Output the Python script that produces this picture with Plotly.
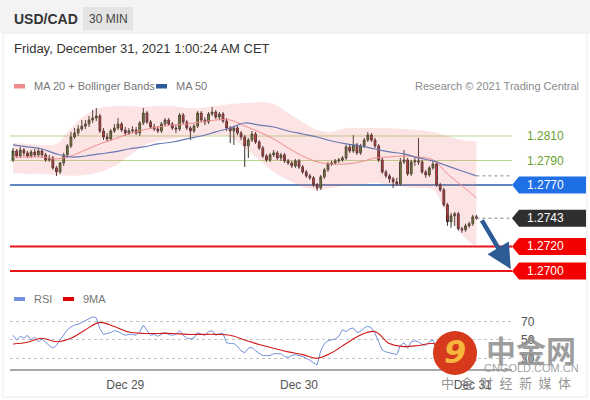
import plotly.graph_objects as go
import pandas as pd

W, H = 590, 400

SYMBOL = "USD/CAD"
PERIOD = "30 MIN"
STAMP = "Friday, December 31, 2021 1:00:24 AM CET"
SOURCE = "Research © 2021 Trading Central"

# 30-minute bars
TIMES = pd.date_range("2021-12-28 08:30", periods=129, freq="30min")
X_RANGE = ["2021-12-28 08:05", "2021-12-31 05:25"]
DATE_TICKS = ["2021-12-29", "2021-12-30", "2021-12-31"]

OPEN = [1.27905, 1.27978, 1.27937, 1.27986, 1.27962, 1.27937, 1.27970, 1.27946, 1.27978, 1.27946,
        1.27905, 1.27921, 1.27840, 1.27807, 1.27880, 1.27946, 1.28019, 1.28092, 1.28124, 1.28157,
        1.28181, 1.28198, 1.28230, 1.28246, 1.28263, 1.28141, 1.28092, 1.28076, 1.28141, 1.28165,
        1.28198, 1.28149, 1.28124, 1.28141, 1.28149, 1.28124, 1.28206, 1.28287, 1.28214, 1.28173,
        1.28157, 1.28141, 1.28198, 1.28230, 1.28198, 1.28165, 1.28157, 1.28271, 1.28214, 1.28165,
        1.28141, 1.28181, 1.28287, 1.28230, 1.28214, 1.28279, 1.28295, 1.28254, 1.28279, 1.28222,
        1.28165, 1.28141, 1.28165, 1.28124, 1.28092, 1.28019, 1.28067, 1.28116, 1.28051, 1.28002,
        1.27937, 1.27905, 1.27946, 1.27962, 1.27921, 1.27946, 1.27897, 1.27880, 1.27856, 1.27897,
        1.27848, 1.27807, 1.27775, 1.27759, 1.27702, 1.27677, 1.27767, 1.27824, 1.27872, 1.27880,
        1.27897, 1.27905, 1.27921, 1.28011, 1.27978, 1.28027, 1.27962, 1.28019, 1.28067, 1.28108,
        1.28067, 1.28019, 1.27905, 1.27807, 1.27775, 1.27750, 1.27726, 1.27710, 1.27889, 1.27905,
        1.27791, 1.27889, 1.27897, 1.27889, 1.27807, 1.27783, 1.27840, 1.27872, 1.27702, 1.27661,
        1.27539, 1.27401, 1.27450, 1.27466, 1.27344, 1.27336, 1.27368, 1.27385, 1.27441]
HIGH = [1.28002, 1.27994, 1.28011, 1.28002, 1.27978, 1.27986, 1.27994, 1.27994, 1.27994, 1.27962,
        1.27946, 1.27937, 1.27856, 1.27889, 1.27962, 1.28035, 1.28133, 1.28165, 1.28189, 1.28230,
        1.28230, 1.28263, 1.28311, 1.28328, 1.28279, 1.28165, 1.28124, 1.28157, 1.28198, 1.28246,
        1.28214, 1.28173, 1.28165, 1.28181, 1.28173, 1.28222, 1.28328, 1.28303, 1.28230, 1.28198,
        1.28181, 1.28214, 1.28246, 1.28246, 1.28214, 1.28189, 1.28287, 1.28287, 1.28230, 1.28181,
        1.28198, 1.28303, 1.28303, 1.28254, 1.28295, 1.28336, 1.28311, 1.28295, 1.28295, 1.28246,
        1.28181, 1.28181, 1.28181, 1.28141, 1.28108, 1.28084, 1.28141, 1.28133, 1.28067, 1.28019,
        1.27954, 1.27962, 1.27986, 1.27978, 1.27962, 1.27962, 1.27913, 1.27897, 1.27913, 1.27913,
        1.27864, 1.27824, 1.27791, 1.27775, 1.27718, 1.27783, 1.27840, 1.27889, 1.27897, 1.27913,
        1.27921, 1.27937, 1.28027, 1.28027, 1.28108, 1.28043, 1.28035, 1.28084, 1.28133, 1.28124,
        1.28084, 1.28035, 1.27921, 1.27824, 1.27791, 1.27767, 1.27759, 1.27921, 1.27986, 1.27921,
        1.27905, 1.27921, 1.28084, 1.27905, 1.27824, 1.27856, 1.27905, 1.27889, 1.27718, 1.27677,
        1.27555, 1.27474, 1.27482, 1.27482, 1.27360, 1.27385, 1.27401, 1.27458, 1.27458]
LOW = [1.27889, 1.27921, 1.27921, 1.27937, 1.27921, 1.27921, 1.27929, 1.27929, 1.27921, 1.27889,
       1.27889, 1.27824, 1.27775, 1.27791, 1.27856, 1.27921, 1.28002, 1.28076, 1.28100, 1.28141,
       1.28157, 1.28173, 1.28206, 1.28222, 1.28124, 1.28067, 1.28051, 1.28059, 1.28124, 1.28149,
       1.28133, 1.28100, 1.28108, 1.28124, 1.28108, 1.28100, 1.28189, 1.28198, 1.28157, 1.28141,
       1.28124, 1.28124, 1.28181, 1.28181, 1.28149, 1.28124, 1.28141, 1.28198, 1.28149, 1.28067,
       1.28124, 1.28165, 1.28214, 1.28189, 1.28198, 1.28263, 1.28238, 1.28230, 1.28206, 1.28141,
       1.28043, 1.28027, 1.28108, 1.28067, 1.27848, 1.27921, 1.28051, 1.28035, 1.27986, 1.27921,
       1.27889, 1.27889, 1.27929, 1.27905, 1.27897, 1.27880, 1.27864, 1.27840, 1.27840, 1.27832,
       1.27791, 1.27759, 1.27742, 1.27685, 1.27653, 1.27661, 1.27750, 1.27807, 1.27856, 1.27864,
       1.27880, 1.27889, 1.27905, 1.27962, 1.27962, 1.27946, 1.27946, 1.28002, 1.28051, 1.28051,
       1.28002, 1.27889, 1.27791, 1.27759, 1.27718, 1.27677, 1.27694, 1.27694, 1.27872, 1.27775,
       1.27775, 1.27856, 1.27864, 1.27791, 1.27759, 1.27767, 1.27824, 1.27685, 1.27645, 1.27523,
       1.27368, 1.27352, 1.27368, 1.27328, 1.27311, 1.27319, 1.27352, 1.27368, 1.27417]
CLOSE = [1.27978, 1.27937, 1.27986, 1.27962, 1.27937, 1.27970, 1.27946, 1.27978, 1.27946, 1.27905,
         1.27921, 1.27840, 1.27807, 1.27880, 1.27946, 1.28019, 1.28092, 1.28124, 1.28157, 1.28181,
         1.28198, 1.28230, 1.28246, 1.28263, 1.28141, 1.28092, 1.28076, 1.28141, 1.28165, 1.28198,
         1.28149, 1.28124, 1.28141, 1.28149, 1.28124, 1.28206, 1.28287, 1.28214, 1.28173, 1.28157,
         1.28141, 1.28198, 1.28230, 1.28198, 1.28165, 1.28157, 1.28271, 1.28214, 1.28165, 1.28141,
         1.28181, 1.28287, 1.28230, 1.28214, 1.28279, 1.28295, 1.28254, 1.28279, 1.28222, 1.28165,
         1.28141, 1.28165, 1.28124, 1.28092, 1.28019, 1.28067, 1.28116, 1.28051, 1.28002, 1.27937,
         1.27905, 1.27946, 1.27962, 1.27921, 1.27946, 1.27897, 1.27880, 1.27856, 1.27897, 1.27848,
         1.27807, 1.27775, 1.27759, 1.27702, 1.27677, 1.27767, 1.27824, 1.27872, 1.27880, 1.27897,
         1.27905, 1.27921, 1.28011, 1.27978, 1.28027, 1.27962, 1.28019, 1.28067, 1.28108, 1.28067,
         1.28019, 1.27905, 1.27807, 1.27775, 1.27750, 1.27726, 1.27710, 1.27889, 1.27905, 1.27791,
         1.27889, 1.27897, 1.27889, 1.27807, 1.27783, 1.27840, 1.27872, 1.27702, 1.27661, 1.27539,
         1.27401, 1.27450, 1.27466, 1.27344, 1.27336, 1.27368, 1.27385, 1.27441, 1.27433]

# indicators
IND_STEP = 4
MA20 = [1.27929, 1.27929, 1.27929, 1.27913, 1.27937, 1.27986, 1.28035, 1.28076, 1.28116, 1.28149,
        1.28173, 1.28189, 1.28198, 1.28214, 1.28230, 1.28230, 1.28181, 1.28133, 1.28076, 1.28002,
        1.27937, 1.27889, 1.27872, 1.27872, 1.27889, 1.27921, 1.27929, 1.27937, 1.27929, 1.27905,
        1.27791, 1.27694, 1.27596]
MA50 = [1.28027, 1.28011, 1.27994, 1.27954, 1.27929, 1.27937, 1.27954, 1.27970, 1.27994, 1.28011,
        1.28035, 1.28051, 1.28076, 1.28100, 1.28133, 1.28165, 1.28206, 1.28189, 1.28173, 1.28141,
        1.28116, 1.28092, 1.28059, 1.28035, 1.28019, 1.27994, 1.27970, 1.27954, 1.27921, 1.27897,
        1.27856, 1.27815, 1.27775]
BB_UP = [1.28043, 1.28035, 1.28027, 1.28035, 1.28165, 1.28271, 1.28328, 1.28344, 1.28344, 1.28336,
         1.28344, 1.28344, 1.28328, 1.28328, 1.28344, 1.28360, 1.28368, 1.28376, 1.28360, 1.28287,
         1.28214, 1.28149, 1.28133, 1.28165, 1.28165, 1.28165, 1.28165, 1.28157, 1.28149, 1.28133,
         1.28100, 1.28067, 1.28059]
BB_LO = [1.27799, 1.27791, 1.27791, 1.27783, 1.27775, 1.27783, 1.27807, 1.27856, 1.27937, 1.28019,
         1.28059, 1.28076, 1.28092, 1.28100, 1.28108, 1.28092, 1.28002, 1.27905, 1.27807, 1.27742,
         1.27685, 1.27661, 1.27677, 1.27694, 1.27702, 1.27718, 1.27702, 1.27685, 1.27677, 1.27661,
         1.27458, 1.27295, 1.27189]

RSI = [55, 50, 54, 52, 55, 50, 53, 48, 51, 47, 44, 41, 44, 50, 56, 61, 64, 66, 67, 69,
       71, 73, 75, 74, 62, 56, 57, 58, 60, 59, 57, 55, 56, 56, 55, 59, 66, 60, 55, 56,
       54, 56, 58, 56, 55, 56, 60, 55, 52, 51, 52, 58, 56, 55, 59, 60, 55, 57, 57, 47,
       46, 46, 43, 38, 36, 41, 42, 38, 35, 33, 33, 33, 35, 35, 35, 32, 31, 33, 34, 33,
       32, 30, 28, 25, 23, 38, 46, 49, 50, 51, 54, 61, 59, 62, 63, 58, 59, 63, 65, 63,
       57, 48, 39, 37, 36, 35, 34, 44, 47, 41, 48, 49, 48, 45, 44, 48, 50, 40, 35, 28,
       22, 28, 27, 24, 24, 26, 28, 33, 33]
RSI_MA9 = [45.6, 47.5, 51.8, 48, 51.8, 61, 69, 64.5, 58.5, 57, 57, 57, 56, 56, 56, 55, 50,
           45, 41, 37, 34, 30, 36, 46, 55.4, 59, 46, 42.7, 44, 46, 38, 30, 28]
RSI_TICKS = [30, 50, 70]

# key levels
RESIST = [1.2810, 1.2790]
PIVOT = 1.2770
LAST = 1.2743
SUPPORT = [1.2720, 1.2700]
ARROW_FROM = ("2021-12-31 01:08", 1.27425)
ARROW_TO = ("2021-12-31 05:15", 1.27015)

Y_RANGE = [1.26902, 1.28434]
RSI_RANGE = [18.4, 87.9]


def px(x):
    return x / W


def py(y):
    return 1 - y / H


FONT = "Liberation Sans, Arial, sans-serif"
ind_t = TIMES[::IND_STEP]

fig = go.Figure()

# bollinger band
fig.add_trace(go.Scatter(x=ind_t, y=BB_UP, mode="lines", line=dict(width=0, shape="spline"),
                         hoverinfo="skip", showlegend=False))
fig.add_trace(go.Scatter(x=ind_t, y=BB_LO, mode="lines", line=dict(width=0, shape="spline"),
                         fill="tonexty", fillcolor="rgba(240,120,120,0.2)",
                         hoverinfo="skip", showlegend=False))

fig.add_trace(go.Candlestick(
    x=TIMES, open=OPEN, high=HIGH, low=LOW, close=CLOSE,
    increasing=dict(line=dict(color="#2f3a26", width=1), fillcolor="#4f8a2c"),
    decreasing=dict(line=dict(color="#3a2a2a", width=1), fillcolor="#cc2a2a"),
    whiskerwidth=0, showlegend=False,
))

fig.add_trace(go.Scatter(x=ind_t, y=MA20, mode="lines",
                         line=dict(color="#f08b8b", width=1, shape="spline"), showlegend=False))
fig.add_trace(go.Scatter(x=ind_t, y=MA50, mode="lines",
                         line=dict(color="#6a78b0", width=1.2, shape="spline"), showlegend=False))

# RSI panel
fig.add_trace(go.Scatter(x=TIMES, y=RSI, mode="lines", xaxis="x2", yaxis="y2",
                         line=dict(color="#7292dc", width=1), showlegend=False))
fig.add_trace(go.Scatter(x=ind_t, y=RSI_MA9, mode="lines", xaxis="x2", yaxis="y2",
                         line=dict(color="#d21a1a", width=1.1, shape="spline"), showlegend=False))

shapes = []
ann = []

# header band, frame
shapes.append(dict(type="rect", xref="paper", yref="paper", x0=0, x1=1, y0=py(33), y1=1,
                   fillcolor="#f3f3f3", line=dict(width=0), layer="below"))
shapes.append(dict(type="rect", xref="paper", yref="paper", x0=px(3), x1=px(587), y0=py(397), y1=py(33),
                   fillcolor="rgba(0,0,0,0)", line=dict(color="#ececec", width=1), layer="below"))
shapes.append(dict(type="rect", xref="paper", yref="paper", x0=px(83), x1=px(133), y0=py(30), y1=py(7),
                   fillcolor="#e3e3e3", line=dict(width=0), layer="below"))
ann.append(dict(text="<b>" + SYMBOL + "</b>", x=px(12), y=py(18.5), xanchor="left",
                font=dict(size=14, color="#333333")))
ann.append(dict(text=PERIOD, x=px(108), y=py(18.5), font=dict(size=12, color="#444444")))
ann.append(dict(text=STAMP, x=px(12), y=py(48), xanchor="left", font=dict(size=13, color="#333333")))

# legends
shapes.append(dict(type="rect", xref="paper", yref="paper", x0=px(14), x1=px(25), y0=py(88.5), y1=py(84),
                   fillcolor="#f08b8b", line=dict(width=0)))
ann.append(dict(text="MA 20 + Bollinger Bands", x=px(32), y=py(86), xanchor="left",
                font=dict(size=11, color="#777777")))
shapes.append(dict(type="rect", xref="paper", yref="paper", x0=px(156), x1=px(167), y0=py(88.5), y1=py(84),
                   fillcolor="#2f5b9a", line=dict(width=0)))
ann.append(dict(text="MA 50", x=px(174), y=py(86), xanchor="left", font=dict(size=11, color="#777777")))
ann.append(dict(text=SOURCE, x=px(581), y=py(86), xanchor="right", font=dict(size=11, color="#8a8a8a")))

shapes.append(dict(type="rect", xref="paper", yref="paper", x0=px(14), x1=px(25), y0=py(301), y1=py(297),
                   fillcolor="#7292dc", line=dict(width=0)))
ann.append(dict(text="RSI", x=px(32), y=py(299), xanchor="left", font=dict(size=11, color="#777777")))
shapes.append(dict(type="rect", xref="paper", yref="paper", x0=px(63), x1=px(74), y0=py(301), y1=py(297),
                   fillcolor="#e00000", line=dict(width=0)))
ann.append(dict(text="9MA", x=px(81), y=py(299), xanchor="left", font=dict(size=11, color="#777777")))

# level lines
for lv in RESIST:
    shapes.append(dict(type="line", xref="x domain", yref="y", x0=0, x1=1, y0=lv, y1=lv,
                       line=dict(color="#b7d78e", width=1), layer="below"))
    ann.append(dict(text=f"{lv:.4f}", xref="paper", yref="y", x=px(525), y=lv, xanchor="left",
                    font=dict(size=12, color="#6aa12c")))
shapes.append(dict(type="line", xref="x domain", yref="y", x0=0, x1=1, y0=PIVOT, y1=PIVOT,
                   line=dict(color="#2b5fa5", width=1.5), layer="below"))
for lv in SUPPORT:
    shapes.append(dict(type="line", xref="x domain", yref="y", x0=0, x1=1, y0=lv, y1=lv,
                       line=dict(color="#e8141a", width=2), layer="below"))
# dotted leaders from last values
for lv, t0 in [(LAST, TIMES[-1]), (MA50[-1], ind_t[-1])]:
    shapes.append(dict(type="line", xref="x", yref="y", x0=t0, x1=X_RANGE[1], y0=lv, y1=lv,
                       line=dict(color="#888888", width=1, dash="dot")))

# price tags
half = (Y_RANGE[1] - Y_RANGE[0]) / 188 * 8.5
tx0, tx1, tx2 = px(512), px(519), px(586)
for lv, col in [(PIVOT, "#1f6fe5"), (LAST, "#2f2f2f"), (SUPPORT[0], "#f40000"), (SUPPORT[1], "#f40000")]:
    path = (f"M {tx0},{lv} L {tx1},{lv + half} L {tx2},{lv + half} "
            f"L {tx2},{lv - half} L {tx1},{lv - half} Z")
    shapes.append(dict(type="path", xref="paper", yref="y", path=path, fillcolor=col, line=dict(width=0)))
    ann.append(dict(text=f"{lv:.4f}", xref="paper", yref="y", x=px(525), y=lv, xanchor="left",
                    font=dict(size=12, color="white")))

# forecast arrow
ann.append(dict(x=ARROW_TO[0], y=ARROW_TO[1], ax=ARROW_FROM[0], ay=ARROW_FROM[1],
                xref="x", yref="y", axref="x", ayref="y", text="", showarrow=True,
                arrowhead=2, arrowsize=1.1, arrowwidth=4.5, arrowcolor="#2d5b96"))

# watermark
shapes.append(dict(type="circle", xref="paper", yref="paper", x0=px(433), x1=px(477), y0=py(375), y1=py(331),
                   fillcolor="#d6391c", line=dict(width=0)))
ann.append(dict(text="<b><i>9</i></b>", x=px(455), y=py(352), font=dict(size=32, color="#f6b53c",
                                                                   family="DejaVu Sans")))
ann.append(dict(text="<b>中金网</b>", x=px(531), y=py(349), font=dict(size=30, color="rgba(140,140,140,0.85)",
                                                                   family="Noto Sans CJK SC")))
ann.append(dict(text="CNGOLD.COM.CN", x=px(531), y=py(368), font=dict(size=11, color="rgba(150,150,150,0.9)")))
ann.append(dict(text="中\u2002金\u2002财\u2002经\u2002新\u2002媒\u2002体", x=px(506), y=py(382),
                font=dict(size=13, color="rgba(130,130,130,0.85)", family="Noto Sans CJK SC")))

for a in ann:
    a.setdefault("xref", "paper")
    a.setdefault("yref", "paper")
    a.setdefault("showarrow", False)
    if not a["showarrow"]:
        a.setdefault("xanchor", "center")
        a.setdefault("yanchor", "middle")

fig.update_layout(
    width=W, height=H,
    margin=dict(l=0, r=0, t=0, b=0),
    paper_bgcolor="white", plot_bgcolor="rgba(0,0,0,0)",
    font=dict(family=FONT),
    showlegend=False,
    shapes=shapes, annotations=ann,
    xaxis=dict(domain=[px(10), px(512)], range=X_RANGE, anchor="y", showticklabels=False,
               showgrid=False, zeroline=False, showline=False, rangeslider=dict(visible=False)),
    yaxis=dict(domain=[py(283), py(95)], range=Y_RANGE, visible=False),
    xaxis2=dict(domain=[px(10), px(512)], range=X_RANGE, anchor="y2", matches="x",
                tickvals=DATE_TICKS, tickformat="%b %d", ticks="", showgrid=False, zeroline=False,
                showline=True, linecolor="#a8a8a8", linewidth=1.5, ticklabelstandoff=4,
                tickfont=dict(size=12, color="#555555")),
    yaxis2=dict(domain=[py(369), py(305)], range=RSI_RANGE, anchor="x2", side="right",
                tickvals=RSI_TICKS, showgrid=True, gridcolor="#c4c4c4", griddash="dot", gridwidth=1,
                zeroline=False, showline=False, ticks="", ticklabelstandoff=8,
                tickfont=dict(size=12, color="#555555")),
)

# the page opens in a window exactly the figure size, so drop the default body margin
fig.write_html("out.html", config={"displayModeBar": False},
               post_script="document.body.style.margin='0';")
